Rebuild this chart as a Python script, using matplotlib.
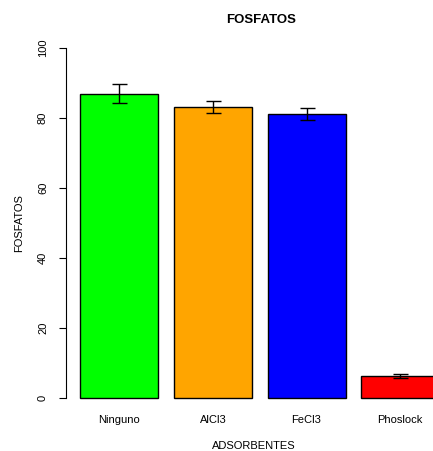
import matplotlib.pyplot as plt
import numpy as np

plt.rcParams['font.family'] = ['Liberation Sans', 'DejaVu Sans']

adsorbentes = ['Ninguno', 'AlCl3', 'FeCl3', 'Phoslock']
fosfatos = [86.9, 83.1, 81.1, 6.3]
errores = [2.7, 1.75, 1.75, 0.7]
colores = ['#00FF00', '#FFA500', '#0000FF', '#FF0000']

fig = plt.figure(figsize=(4.33, 4.51), dpi=100)
# region del grafico estilo R (se sale por la derecha como el original)
ax = fig.add_axes([66 / 433, 39 / 451, 387.5 / 433, 378 / 451])

x = 0.7 + 1.2 * np.arange(len(adsorbentes))
ax.bar(x, fosfatos, width=1.0, color=colores, edgecolor='black', linewidth=1.0)
ax.errorbar(x, fosfatos, yerr=errores, fmt='none', ecolor='black',
            elinewidth=1.0, capsize=5.4, capthick=1.0)

ax.set_xlim(0.016, 4.984)
ax.set_ylim(-4, 104)
ax.set_xticks(x)
ax.set_xticklabels(adsorbentes, fontsize=8)
ax.tick_params(axis='x', length=0, pad=2)
ax.set_yticks(np.arange(0, 101, 20))
ax.set_yticklabels([str(v) for v in range(0, 101, 20)], fontsize=8,
                   rotation=90, va='center')
ax.tick_params(axis='y', length=5, width=0.8, pad=8)

for s in ['top', 'right', 'bottom']:
    ax.spines[s].set_visible(False)
ax.spines['left'].set_bounds(0, 100)
ax.spines['left'].set_linewidth(0.8)

ax.set_ylabel('FOSFATOS', fontsize=8, labelpad=10)
fig.text(254 / 433, 1 - 446 / 451, 'ADSORBENTES', fontsize=8,
         ha='center', va='center')
fig.text(261 / 433, 1 - 20 / 451, 'FOSFATOS', fontsize=9.5,
         fontweight='bold', ha='center', va='center')

fig.savefig('out.png', dpi=100)
